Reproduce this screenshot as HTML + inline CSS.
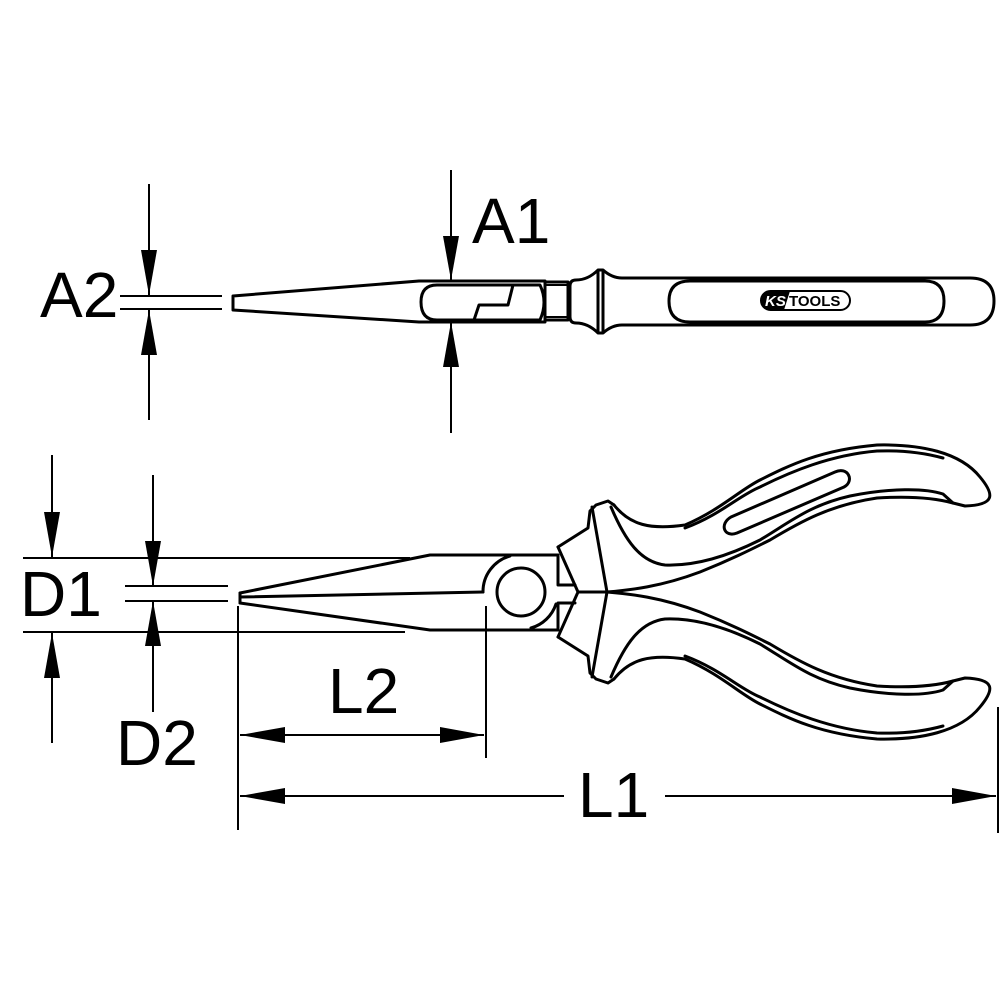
<!DOCTYPE html>
<html><head><meta charset="utf-8"><style>
html,body{margin:0;padding:0;background:#fff}
svg{display:block}
text{font-family:"Liberation Sans",Arial,sans-serif;fill:#000}
</style></head><body>
<svg width="1000" height="1000" viewBox="0 0 1000 1000" xmlns="http://www.w3.org/2000/svg">
<rect width="1000" height="1000" fill="#fff"/>
<g fill="none" stroke="#000" stroke-width="3" stroke-linejoin="round" stroke-linecap="round">
<!-- TOP VIEW -->
<path d="M233,296 L233,310 L419,322 L545,322 L545,281 L419,281 Z"/>
<path d="M437,285 L540,285 Q548,302 540,320 L437,320 Q421,320 421,302 Q421,285 437,285 Z"/>
<path d="M474,320 L479,305 L508,305 L513,285"/>
<path d="M545,282 L568,282 L568,320 L545,320"/>
<path d="M545,285 L568,285 M545,317 L568,317" stroke-width="2"/>
<path d="M570,286 Q570,280 576,280 Q588,280 598,270 L603,270 Q612,278 622,278 L970,278 Q994,278 994,301 Q994,325 970,325 L622,325 Q612,325 603,333 L598,333 Q588,323 576,323 Q570,323 570,317 Z"/>
<path d="M598,271 L598,332 M603,271 L603,332"/>
<path d="M690,281 L925,281 Q944,281 944,301 Q944,322 925,322 L690,322 Q669,322 669,301 Q669,281 690,281 Z"/>

<!-- BOTTOM VIEW jaws -->
<path d="M240,593 L430,555 L558,555"/>
<path d="M240,603 L430,630 L558,630"/>
<path d="M240,593 L240,603"/>
<path d="M240,597 L483,592"/>
<path d="M483,592 A37,37 0 0 1 510,556"/>
<path d="M531,628 A37,37 0 0 0 556,604"/>
<circle cx="521" cy="592" r="24"/>
<path d="M558,555 L558,585 L575,585 M558,630 L558,603 L575,603"/>
<!-- head -->
<path d="M558,547 L588,528 L590,511 L596,505 L608,501 L614,505"/>
<path d="M558,547 L578,592 L558,637"/>
<path d="M558,637 L588,656 L590,673 L596,679 L608,683 L614,679"/>
<path d="M592,507 L607,592 L592,677"/>
<path d="M578,592 L607,592"/>
<!-- upper handle -->
<path d="M614,505 C630,525 650,530 685,525 C720,510 740,490 760,480 C790,465 820,450 877,445 C920,444 960,452 980,477 C995,495 995,505 965,506 L953,503"/>
<path d="M685,528 C720,515 740,495 760,487 C790,472 830,455 877,451 C905,450 925,453 943,458"/>
<path d="M611,507 C625,540 640,562 665,565 C690,566 720,560 760,540 C790,522 810,505 850,496 C890,488 925,488 943,494 L953,503"/>
<path d="M607,592 C630,590 660,587 700,572 C730,560 750,550 770,540 C800,522 830,505 877,498 C910,496 935,498 953,503"/>
<path d="M737,533 C724,538 719,524 731,517 L835,472 C848,466 855,481 844,487 Z" />
<!-- lower handle (mirror) -->
<path d="M614,679 C630,659 650,654 685,659 C720,674 740,694 760,704 C790,719 820,734 877,739 C920,740 960,732 980,707 C995,689 995,679 965,678 L953,681"/>
<path d="M685,656 C720,669 740,689 760,697 C790,712 830,729 877,733 C905,734 925,731 943,726"/>
<path d="M611,677 C625,644 640,622 665,619 C690,618 720,624 760,644 C790,662 810,679 850,688 C890,696 925,696 943,690 L953,681"/>
<path d="M607,592 C630,594 660,597 700,612 C730,624 750,634 770,644 C800,662 830,679 877,686 C910,688 935,686 953,681"/>
</g>

<!-- dimension lines -->
<g stroke="#000" stroke-width="2" fill="none">
<line x1="149" y1="184" x2="149" y2="295"/>
<line x1="149" y1="310" x2="149" y2="420"/>
<line x1="120" y1="296" x2="222" y2="296"/>
<line x1="120" y1="309" x2="222" y2="309"/>
<line x1="451" y1="170" x2="451" y2="280"/>
<line x1="451" y1="322" x2="451" y2="433"/>
<line x1="23" y1="558" x2="410" y2="558"/>
<line x1="23" y1="632" x2="405" y2="632"/>
<line x1="52" y1="455" x2="52" y2="558"/>
<line x1="52" y1="632" x2="52" y2="743"/>
<line x1="153" y1="475" x2="153" y2="586"/>
<line x1="153" y1="601" x2="153" y2="712"/>
<line x1="125" y1="586" x2="228" y2="586"/>
<line x1="125" y1="601" x2="228" y2="601"/>
<line x1="238" y1="606" x2="238" y2="830"/>
<line x1="486" y1="606" x2="486" y2="758"/>
<line x1="240" y1="735" x2="484" y2="735"/>
<line x1="240" y1="796" x2="564" y2="796"/>
<line x1="665" y1="796" x2="996" y2="796"/>
<line x1="998" y1="707" x2="998" y2="833"/>
</g>
<g fill="#000">
<polygon points="141,250 157,250 149,295"/>
<polygon points="141,355 157,355 149,310"/>
<polygon points="443,236 459,236 451,280"/>
<polygon points="443,367 459,367 451,322"/>
<polygon points="44,512 60,512 52,557"/>
<polygon points="44,678 60,678 52,633"/>
<polygon points="145,541 161,541 153,586"/>
<polygon points="145,646 161,646 153,601"/>
<polygon points="240,735 285,727 285,743"/>
<polygon points="484,735 440,727 440,743"/>
<polygon points="240,796 285,788 285,804"/>
<polygon points="996,796 952,788 952,804"/>
</g>
<g font-size="64">
<text x="40" y="317">A2</text>
<text x="472" y="243">A1</text>
<text x="20" y="616">D1</text>
<text x="116" y="765">D2</text>
<text x="328" y="713">L2</text>
<text x="578" y="817">L1</text>
</g>
<!-- logo -->
<rect x="761" y="291" width="89" height="19" rx="9.5" fill="#fff" stroke="#000" stroke-width="2"/>
<path d="M770,291 L790,291 L784,310 L770,310 A9.5,9.5 0 0 1 770,291 Z" fill="#000"/>
<text x="765" y="306" font-size="15" font-weight="bold" font-style="italic" style="fill:#fff">KS</text>
<text x="789" y="306" font-size="15" font-weight="bold">TOOLS</text>
</svg>
</body></html>
